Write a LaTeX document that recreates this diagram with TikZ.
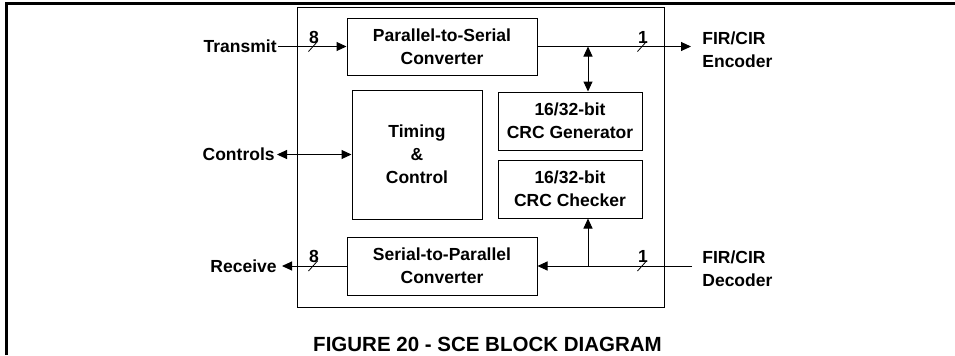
\documentclass[tikz,border=0pt]{standalone}
\usepackage{fontspec}
\setmainfont{Liberation Sans}
\usetikzlibrary{arrows.meta}
\begin{document}
\begin{tikzpicture}[x=0.5pt, y=-0.5pt, >={Triangle[length=5pt,width=4.5pt]},
    font=\bfseries\fontsize{8.75}{11.5}\selectfont,
    block/.style={draw, line width=0.5pt, align=center, inner sep=0pt},
    sig/.style={inner ysep=0pt, align=left}]
    \useasboundingbox (0,0) rectangle (955,355);

    % Frame
    \draw[line width=1.3pt] (6.5,355) -- (6.5,3.7) -- (955,3.7);
    \draw[line width=0.5pt] (297,7) rectangle (664,307);

    % Blocks
    \node[block, minimum width=95pt, minimum height=28.5pt] (p2s) at (442,46.5) {Parallel-to-Serial\\Converter};
    \node[block, minimum width=65pt, minimum height=64.5pt] (tim) at (417,154.5) {Timing\\\&\\Control};
    \node[block, minimum width=72pt, minimum height=29pt] (gen) at (570,121) {16/32-bit\\CRC Generator};
    \node[block, minimum width=72pt, minimum height=29pt] (chk) at (570,189) {16/32-bit\\CRC Checker};
    \node[block, minimum width=95pt, minimum height=29pt] (s2p) at (442,266) {Serial-to-Parallel\\Converter};

    % Signals
    \node[sig, inner xsep=0.5pt, anchor=east] (tx) at (278,46.5) {Transmit};
    \node[sig, inner xsep=1pt, anchor=east] (ctl) at (277,154.5) {Controls};
    \node[sig, inner xsep=2.5pt, anchor=east] (rx) at (282,266) {Receive};
    \node[sig, inner xsep=5.5pt, anchor=west] (enc) at (691,50) {FIR/CIR\\Encoder};
    \node[sig, inner xsep=5pt, anchor=west] (dec) at (692,269) {FIR/CIR\\Decoder};
    \coordinate (tap) at (588,266);

    % Connections
    \draw[->, line width=0.5pt] (tx.east) -- (p2s.west);
    \draw[<->, line width=0.5pt] (ctl.east) -- (tim.west);
    \draw[->, line width=0.5pt] (s2p.west) -- (rx.east);
    \draw[->, line width=0.5pt] (p2s.east) -- (p2s.east -| enc.west);
    \draw[<->, line width=0.5pt] (p2s.east -| tap) -- (tap |- gen.north);
    \draw[->, line width=0.5pt] (s2p.east -| dec.west) -- (s2p.east);
    \draw[->, line width=0.5pt] (tap) -- (tap |- chk.south);

    % Bus widths
    \foreach \x/\y/\w/\n in {313/46.5/8/a, 642/46.5/1/b, 313/266/8/c, 642/266/1/d} {
        \draw[line width=0.4pt] (\x-4.5,\y+5) -- (\x+4.5,\y-5);
        \node[inner sep=0pt] (w\n) at (\x+1,\y-9.5) {\w};
    }

    % Caption
    \node[font=\bfseries\fontsize{10.25}{12}\selectfont] (cap) at (487.5,344) {FIGURE 20 - SCE BLOCK DIAGRAM};
\end{tikzpicture}
\end{document}
